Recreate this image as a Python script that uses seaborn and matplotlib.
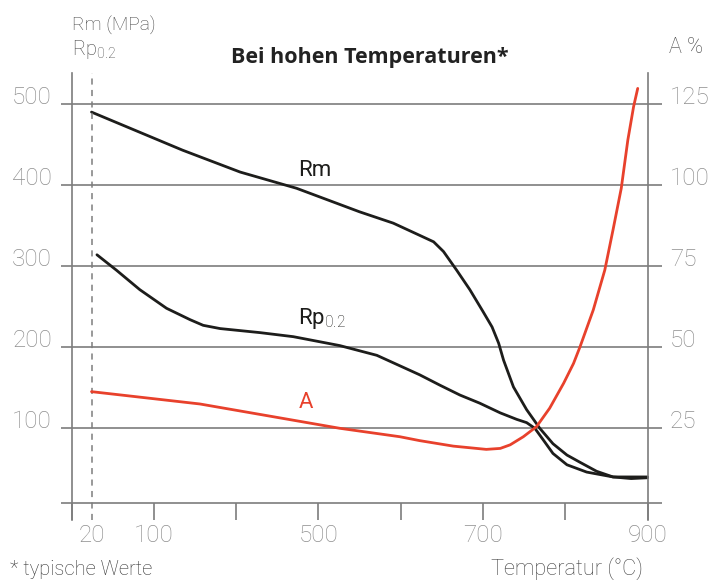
import numpy as np
import pandas as pd
import matplotlib
matplotlib.use('Agg')
import matplotlib.pyplot as plt
from matplotlib import font_manager
import seaborn as sns

# values, temperature in °C
rm_temp = [20, 170, 310, 447, 550, 591, 623, 640, 652, 668, 684, 700, 711, 719, 725,
           737, 753, 769, 785, 802, 818, 838, 858, 880, 900]
rm_val = [490, 443, 416, 396, 367, 353, 338, 330, 318, 295, 271, 244, 225, 205, 184,
          151, 123, 100, 81, 67, 58, 47, 40, 38, 39]

rp_temp = [27, 52, 82, 131, 188, 220, 261, 358, 439, 526, 571, 623, 648, 672, 696,
           721, 741, 753, 763, 773, 785, 802, 826, 858, 900]
rp_val = [314, 295, 271, 248, 234, 227, 223, 218, 213, 202, 190, 166, 153, 141, 131,
          119, 111, 107, 100, 86, 69, 55, 46, 40, 40]

# elongation A in %
a_temp = [20, 212, 526, 599, 623, 664, 704, 721, 733, 749, 765, 781, 798, 810, 818,
          834, 848, 858, 868, 876, 883, 888]
a_val = [36.3, 32.5, 25.0, 22.4, 21.2, 19.5, 18.5, 18.8, 19.9, 22.4, 25.5, 31.2, 38.9, 45.0, 50.2,
         61.5, 73.8, 86.2, 99.0, 113.9, 124.2, 129.8]

x_ticks = [0, 100, 300, 500, 600, 700, 800, 900]
x_labels = ['', '100', '', '500', '', '700', '', '900']
rm_ticks = [100, 200, 300, 400, 500]
a_ticks = [25, 50, 75, 100, 125]

GRAY = '#7d7d7d'
LABEL = '#8e8e8e'
BLACK = '#1d1d1b'
RED = '#e8412c'

sns.set_style('white')
installed = {f.name for f in font_manager.fontManager.ttflist}
light = next(f for f in ['Liberation Sans Narrow', 'Roboto', 'DejaVu Sans'] if f in installed)
plt.rcParams['font.family'] = [light, 'DejaVu Sans']
plt.rcParams['font.weight'] = 'light'
plt.rcParams['mathtext.fontset'] = 'custom'
plt.rcParams['mathtext.rm'] = light + ':light'
plt.rcParams['mathtext.it'] = light + ':light'


# broken temperature axis: 100-500 is squeezed
bp_t = [-100, 0, 20, 100, 500, 900, 1000]
bp_u = [-1, 0, 0.243, 1, 3, 7, 8]


def fwd(t):
    return np.interp(t, bp_t, bp_u)


def inv(u):
    return np.interp(u, bp_u, bp_t)


W, H = 713, 580
fig = plt.figure(figsize=(W / 100, H / 100), dpi=100)
ax = fig.add_axes([61 / W, (H - 520) / H, 601 / W, 447 / H])

sns.lineplot(x=rm_temp, y=rm_val, ax=ax, color=BLACK, lw=2.0)
sns.lineplot(x=rp_temp, y=rp_val, ax=ax, color=BLACK, lw=2.0)

ax.set_xscale('function', functions=(fwd, inv))
ax.set_xlim(inv(-0.1276), inv(7.175))
ylo, yhi = -13.1, 538.2
ax.set_ylim(ylo, yhi)

ax2 = ax.twinx()
sns.lineplot(x=a_temp, y=a_val, ax=ax2, color=RED, lw=2.0)
ax2.set_ylim(ylo / 4, yhi / 4)

# spines / axis lines
for s in ['top', 'bottom', 'right']:
    ax.spines[s].set_visible(False)
ax.spines['left'].set_position(('data', 0))
for s in ['top', 'bottom', 'left']:
    ax2.spines[s].set_visible(False)
ax2.spines['right'].set_position(('data', 900))
for s in [ax.spines['left'], ax2.spines['right']]:
    s.set_color(GRAY)
    s.set_linewidth(1.2)

ax.axhline(7.5, color=GRAY, lw=1.2)
ax.axvline(20, color=GRAY, lw=1.1, ls=(0, (4, 3.5)))

ax.set_yticks(rm_ticks)
ax.yaxis.grid(True, color=GRAY, lw=1.2)
ax.xaxis.grid(False)
ax.tick_params(axis='y', length=0, pad=14, labelsize=17.5, labelcolor=LABEL)
for lab in ax.get_yticklabels():
    lab.set_va('baseline')

ax2.set_yticks(a_ticks)
ax2.grid(False)
ax2.tick_params(axis='y', length=0, pad=16, labelsize=17.5, labelcolor=LABEL)
for lab in ax2.get_yticklabels():
    lab.set_va('baseline')

ax.set_xticks(x_ticks, labels=x_labels)
ax.set_xticks([20], labels=['20'], minor=True)
ax.tick_params(axis='x', which='major', direction='in', length=12, width=1.2,
               color=GRAY, pad=3, labelsize=17.5, labelcolor=LABEL, bottom=True)
ax.tick_params(axis='x', which='minor', length=0, pad=3, labelsize=17.5,
               labelcolor=LABEL, bottom=True)

ax.set_xlabel('')
ax.set_ylabel('')
ax2.set_ylabel('')

# curve labels
ax.text(492, 418, 'Rm', fontsize=16, color=BLACK, ha='center', va='center', fontweight='normal')
ax.text(504, 236, 'Rp$_{0.2}$', fontsize=16, color=BLACK, ha='center', va='center', fontweight='normal')
ax.text(470, 132, 'A', fontsize=16, color=RED, ha='center', va='center', fontweight='normal')

# texts around the plot
fig.text(370 / W, 1 - 57 / H, 'Bei hohen Temperaturen*', ha='center', va='center',
         fontsize=15.5, fontweight='bold', color='#222222', family=['Open Sans', 'DejaVu Sans'])
fig.text(72 / W, 1 - 31 / H, 'Rm (MPa)', fontsize=13.8, color='#444444', va='baseline')
fig.text(72 / W, 1 - 55 / H, 'Rp$_{0.2}$', fontsize=14.5, color='#444444', va='baseline')
fig.text(669 / W, 1 - 53 / H, 'A %', fontsize=15.5, color='#444444', va='baseline')
fig.text(10 / W, 1 - 575 / H, '* typische Werte', fontsize=14.5, color='#333333', va='baseline')
fig.text(643 / W, 1 - 575 / H, 'Temperatur (°C)', fontsize=15.7, color='#444444',
         va='baseline', ha='right')

fig.savefig('out.png', dpi=100)
